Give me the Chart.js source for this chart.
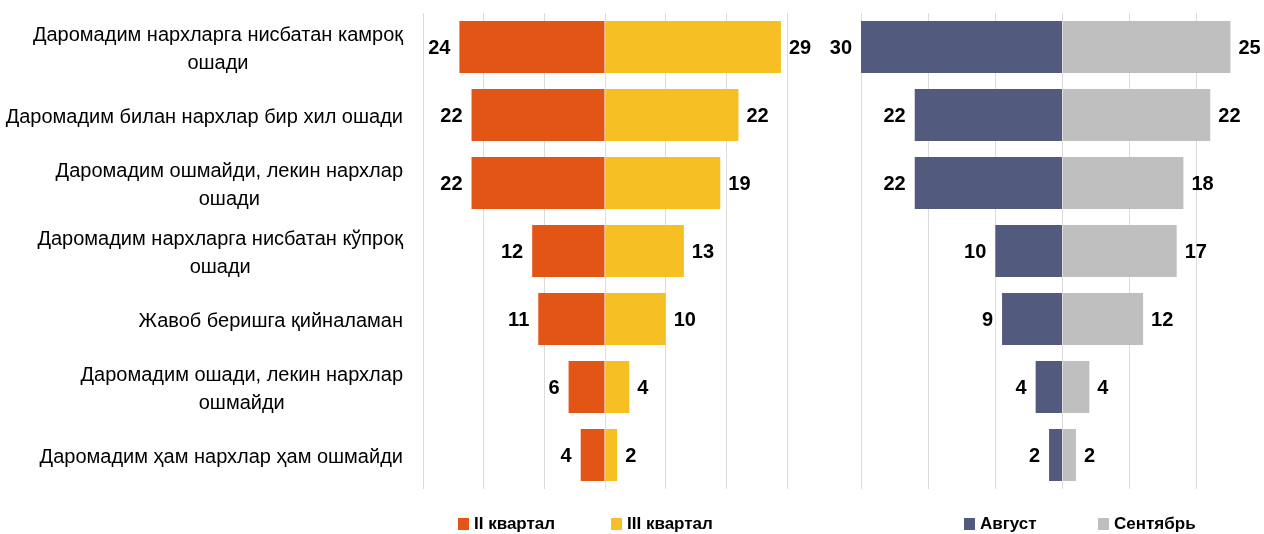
<!DOCTYPE html>
<html>
<head>
<meta charset="utf-8">
<script src="https://cdn.jsdelivr.net/npm/chart.js@4.4.1/dist/chart.umd.min.js"></script>
<style>
    html, body { margin: 0; padding: 0; background: #ffffff; }
    #wrap { position: relative; width: 1264px; height: 534px; overflow: hidden; }
    #left-box { position: absolute; left: 0; top: 0; width: 830px; height: 534px; }
    #right-box { position: absolute; left: 820px; top: 0; width: 444px; height: 534px; }
    .legend-item { position: absolute; top: 514px; height: 20px; display: flex; align-items: center;
        font-family: 'Liberation Sans', Arial, sans-serif; font-weight: bold; font-size: 17px; color: #000; white-space: nowrap; }
    .legend-item span.box { display: inline-block; width: 11px; height: 12px; margin-right: 5px; }
</style>
</head>
<body>
<div id="wrap">
    <div id="left-box"><canvas id="left-chart"></canvas></div>
    <div id="right-box"><canvas id="right-chart"></canvas></div>
    <div id="legends"></div>
</div>
<script>
// Категориялар (юқоридан пастга)
const categories = [
    ['Даромадим нархларга нисбатан камроқ', 'ошади'],
    ['Даромадим билан нархлар бир хил ошади'],
    ['Даромадим ошмайди, лекин нархлар', 'ошади'],
    ['Даромадим нархларга нисбатан кўпроқ', 'ошади'],
    ['Жавоб беришга қийналаман'],
    ['Даромадим ошади, лекин нархлар', 'ошмайди'],
    ['Даромадим ҳам нархлар ҳам ошмайди']
];

// Чап диаграмма: чораклар
const q2Values = [24, 22, 22, 12, 11, 6, 4];
const q3Values = [29, 22, 19, 13, 10, 4, 2];

// Ўнг диаграмма: ойлар
const augValues = [30, 22, 22, 10, 9, 4, 2];
const sepValues = [25, 22, 18, 17, 12, 4, 2];

const COLORS = {
    q2: '#E35417',
    q3: '#F6BF24',
    aug: '#525A7D',
    sep: '#BFBFBF',
    grid: '#DCDCDC'
};

const FONT = "'Liberation Sans', Arial, sans-serif";

// Бар учидаги рақамлар
const valueLabels = {
    id: 'valueLabels',
    afterDatasetsDraw(chart) {
        const ctx = chart.ctx;
        ctx.save();
        ctx.font = 'bold 20px ' + FONT;
        ctx.fillStyle = '#000000';
        ctx.textBaseline = 'middle';
        chart.data.datasets.forEach((ds, di) => {
            const meta = chart.getDatasetMeta(di);
            meta.data.forEach((bar, i) => {
                const v = ds.data[i];
                if (v < 0) {
                    ctx.textAlign = 'right';
                    ctx.fillText(String(-v), bar.x - 9, bar.y + 1);
                } else {
                    ctx.textAlign = 'left';
                    ctx.fillText(String(v), bar.x + 8, bar.y + 1);
                }
            });
        });
        ctx.restore();
    }
};

// Категория номлари: блок ўнгга текисланган, қаторлар марказда
const categoryLabels = {
    id: 'categoryLabels',
    afterDraw(chart) {
        if (!chart.options.plugins.categoryLabels || !chart.options.plugins.categoryLabels.show) return;
        const ctx = chart.ctx;
        const yScale = chart.scales.y;
        const right = chart.chartArea.left - 20;
        const lineH = 28;
        ctx.save();
        ctx.font = '20px ' + FONT;
        ctx.fillStyle = '#000000';
        ctx.textAlign = 'center';
        ctx.textBaseline = 'middle';
        categories.forEach((lines, i) => {
            const yc = yScale.getPixelForValue(i) + 2;
            const w = Math.max(...lines.map(l => ctx.measureText(l).width));
            const xc = right - w / 2;
            const y0 = yc - (lines.length - 1) * lineH / 2;
            lines.forEach((l, k) => ctx.fillText(l, xc, y0 + k * lineH));
        });
        ctx.restore();
    }
};

function makeChart(canvasId, sets, padding, hideMaxGrid, showCats) {
    const ctx = document.getElementById(canvasId).getContext('2d');
    return new Chart(ctx, {
        type: 'bar',
        data: {
            labels: categories.map(c => c.join(' ')),
            datasets: sets.map(s => ({
                label: s.label,
                data: s.data,
                backgroundColor: s.color,
                borderWidth: 0,
                categoryPercentage: 1,
                barPercentage: 0.765
            }))
        },
        options: {
            indexAxis: 'y',
            responsive: true,
            maintainAspectRatio: false,
            animation: false,
            layout: { padding: padding },
            plugins: {
                legend: { display: false },
                tooltip: { enabled: false },
                categoryLabels: { show: showCats }
            },
            scales: {
                x: {
                    stacked: true,
                    min: -30,
                    max: 30,
                    ticks: { display: false, stepSize: 10 },
                    grid: {
                        drawTicks: false,
                        color: (c) => (hideMaxGrid && c.tick && c.tick.value === 30) ? 'rgba(0,0,0,0)' : COLORS.grid,
                        lineWidth: 1
                    },
                    border: { display: false }
                },
                y: {
                    stacked: true,
                    display: false
                }
            }
        },
        plugins: [valueLabels, categoryLabels]
    });
}

makeChart('left-chart', [
    { label: 'II квартал', data: q2Values.map(v => -v), color: COLORS.q2 },
    { label: 'III квартал', data: q3Values, color: COLORS.q3 }
], { left: 423, right: 43, top: 13, bottom: 45 }, false, true);

makeChart('right-chart', [
    { label: 'Август', data: augValues.map(v => -v), color: COLORS.aug },
    { label: 'Сентябрь', data: sepValues, color: COLORS.sep }
], { left: 41, right: 0, top: 13, bottom: 45 }, true, false);

// HTML легенда
function createLegend(items) {
    const container = document.getElementById('legends');
    items.forEach(item => {
        const el = document.createElement('div');
        el.className = 'legend-item';
        el.style.left = item.x + 'px';
        el.innerHTML = `<span class="box" style="background-color: ${item.color}"></span><span>${item.label}</span>`;
        container.appendChild(el);
    });
}

createLegend([
    { label: 'II квартал', color: COLORS.q2, x: 458 },
    { label: 'III квартал', color: COLORS.q3, x: 611 },
    { label: 'Август', color: COLORS.aug, x: 964 },
    { label: 'Сентябрь', color: COLORS.sep, x: 1098 }
]);
</script>
</body>
</html>
